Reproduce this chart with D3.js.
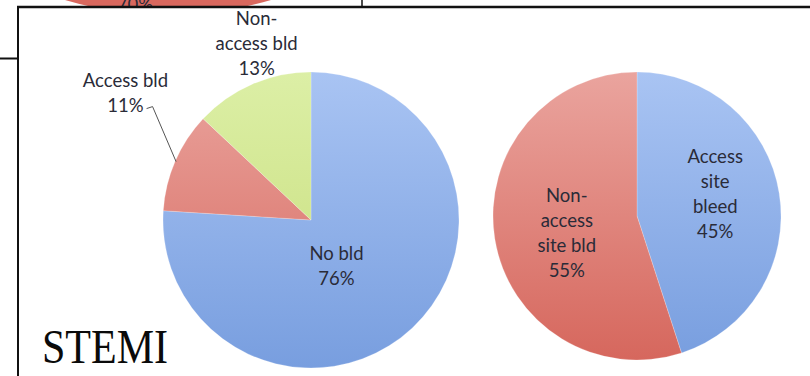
<!DOCTYPE html>
<html>
<head>
<meta charset="utf-8">
<script src="https://cdn.jsdelivr.net/npm/d3@7"></script>
<style>
  html, body { margin: 0; padding: 0; background: #ffffff; }
  svg { display: block; }
</style>
</head>
<body>
<svg id="chart" width="810" height="376"></svg>
<script>
// ---- data ----
const stemiCategories = ["No bld", "Access bld", "Non-access bld"];
const stemiValues = [76, 11, 13];
const stemiNameLines = [["No bld"], ["Access bld"], ["Non-", "access bld"]];

const bleedCategories = ["Access site bleed", "Non-access site bld"];
const bleedValues = [45, 55];
const bleedNameLines = [["Access", "site", "bleed"], ["Non-", "access", "site bld"]];

const panelTitle = "STEMI";
const previousPanelLabel = "70%";

// ---- styles ----
const W = 810, H = 376;
const labelFont = "Lato, 'Open Sans', sans-serif";
const labelSize = 18.5;
const lineH = 25;
const textColor = "#2a2b38";

const svg = d3.select("#chart");
const defs = svg.append("defs");

function vGrad(id, top, bottom, y0, y1) {
  const g = defs.append("linearGradient").attr("id", id)
    .attr("gradientUnits", "userSpaceOnUse")
    .attr("x1", 0).attr("x2", 0).attr("y1", y0).attr("y2", y1);
  g.append("stop").attr("offset", "0%").attr("stop-color", top);
  g.append("stop").attr("offset", "100%").attr("stop-color", bottom);
  return `url(#${id})`;
}

const palette = {
  blue: ["#a9c4f3", "#789edf"],
  red: ["#eaa49e", "#d6675d"],
  green: ["#dcefa6", "#c6dc78"]
};

// generic pie with slice labels
function drawPie(opts) {
  const { cx, cy, r, values, colors, nameLines, labels, prefix } = opts;
  const g = svg.append("g").attr("transform", `translate(${cx},${cy})`);
  const pie = d3.pie().sort(null).value(d => d)(values);
  const arc = d3.arc().innerRadius(0).outerRadius(r);

  g.selectAll("path.slice").data(pie).join("path")
    .attr("class", "slice")
    .attr("d", arc)
    .attr("fill", (d, i) => vGrad(`${prefix}g${i}`, palette[colors[i]][0], palette[colors[i]][1], -r, r))
    .attr("stroke", "rgba(255,255,255,0.35)")
    .attr("stroke-width", 0.6);

  pie.forEach((d, i) => {
    const L = labels[i];
    const mid = (d.startAngle + d.endAngle) / 2;
    const rr = r * L.k;
    const ax = rr * Math.sin(mid) + L.dx;
    const ay = -rr * Math.cos(mid) + L.dy;
    const lines = nameLines[i].concat([`${values[i]}%`]);
    const n = lines.length;
    const y0 = ay - (n - 1) * lineH / 2 + 6.5;
    const t = g.append("text")
      .attr("text-anchor", "middle")
      .attr("font-family", labelFont)
      .attr("font-size", labelSize)
      .attr("fill", textColor);
    lines.forEach((s, j) => {
      t.append("tspan").attr("x", ax).attr("y", y0 + j * lineH).text(s);
    });
    if (L.leader) {
      const last = t.selectAll("tspan").nodes()[n - 1];
      const w = last.getComputedTextLength();
      const sx = ax + w / 2 + 3, sy = y0 + (n - 1) * lineH - 3;
      const ex = (r - 1) * Math.sin(mid), ey = -(r - 1) * Math.cos(mid);
      g.append("path")
        .attr("d", d3.line()([[sx, sy], [sx + 6, sy - 2], [ex, ey]]))
        .attr("fill", "none")
        .attr("stroke", "#555")
        .attr("stroke-width", 1);
    }
  });
}

// fragment of the panel above (cut off by the frame)
const clip = defs.append("clipPath").attr("id", "topclip");
clip.append("rect").attr("x", 0).attr("y", 0).attr("width", W).attr("height", 6.5);
const frag = svg.append("g").attr("clip-path", "url(#topclip)");
frag.append("circle").attr("cx", 168).attr("cy", -346).attr("r", 361)
  .attr("fill", "#d9685e");
frag.append("text").attr("x", 135).attr("y", 11)
  .attr("text-anchor", "middle")
  .attr("font-family", labelFont).attr("font-size", labelSize)
  .attr("fill", textColor).text(previousPanelLabel);

// STEMI pie
drawPie({
  prefix: "s", cx: 311, cy: 220, r: 148,
  values: stemiValues,
  colors: ["blue", "red", "green"],
  nameLines: stemiNameLines,
  labels: [
    { k: 0.36, dx: -11, dy: 7 },
    { k: 1.3, dx: -9, dy: -51, leader: true },
    { k: 1.3, dx: 22, dy: 0 }
  ]
});

// bleed-site pie
drawPie({
  prefix: "b", cx: 637, cy: 216, r: 144,
  values: bleedValues,
  colors: ["blue", "red"],
  nameLines: bleedNameLines,
  labels: [
    { k: 0.55, dx: 0, dy: -10 },
    { k: 0.55, dx: 8, dy: 5 }
  ]
});

// frame lines
const frame = svg.append("g").attr("stroke", "#111").attr("fill", "none");
frame.append("line").attr("x1", 17).attr("x2", W).attr("y1", 7).attr("y2", 7).attr("stroke-width", 2.5);
frame.append("line").attr("x1", 18).attr("x2", 18).attr("y1", 6).attr("y2", H).attr("stroke-width", 2);
frame.append("line").attr("x1", 0).attr("x2", 18).attr("y1", 58.5).attr("y2", 58.5).attr("stroke-width", 2);
frame.append("line").attr("x1", 362).attr("x2", 362).attr("y1", 0).attr("y2", 7).attr("stroke-width", 1.5);

// panel title
svg.append("text")
  .attr("x", 42).attr("y", 363)
  .attr("font-family", "'Liberation Serif', 'DejaVu Serif', serif")
  .attr("font-size", 49)
  .attr("fill", "#0a0a0a")
  .attr("textLength", 126)
  .attr("lengthAdjust", "spacingAndGlyphs")
  .text(panelTitle);
</script>
</body>
</html>
